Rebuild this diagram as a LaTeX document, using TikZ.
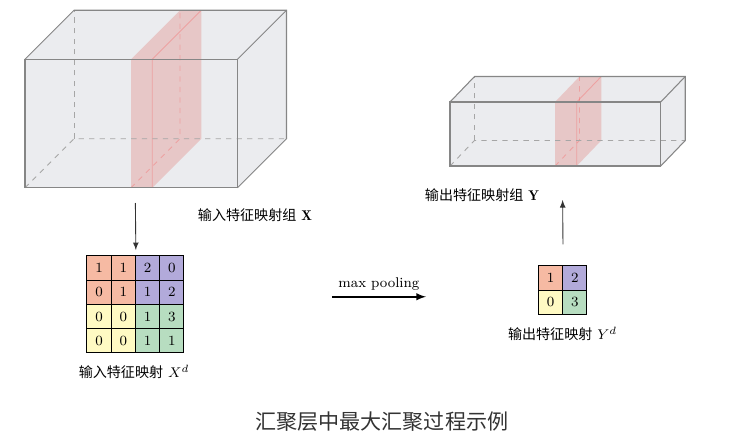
\documentclass[tikz,border=0pt]{standalone}
\usepackage{fontspec}
\newfontfamily\cjk{Noto Sans CJK SC}
\definecolor{boxgray}{RGB}{235,236,239}
\definecolor{slabred}{RGB}{223,92,83}
\definecolor{cred}{RGB}{246,186,163}
\definecolor{cpurple}{RGB}{178,170,218}
\definecolor{cyellow}{RGB}{255,250,195}
\definecolor{cgreen}{RGB}{183,221,192}
\tikzset{
  cell/.style={draw, line width=0.6pt, minimum size=0.485cm, inner sep=0pt, font=\footnotesize},
  boxedge/.style={draw=gray!95, line width=0.6pt},
  hidden/.style={draw=gray!70, dashed, line width=0.5pt},
  slab/.style={fill=slabred, fill opacity=0.25},
  slabedge/.style={draw=red!80, draw opacity=0.25, line width=0.5pt},
  lbl/.style={font=\footnotesize},
}
\begin{document}
\begin{tikzpicture}[scale = 0.5]
\useasboundingbox (0,0) rectangle (30,17.64);
% input feature maps
\fill[boxgray] (1,10.13) -- (1,15.27) -- (2.96,17.23) -- (11.46,17.23) -- (11.46,12.09) -- (9.5,10.13) -- cycle;
\fill[slab] (5.24,10.13) -- (5.24,15.27) -- (7.2,17.23) -- (8.05,17.23) -- (8.05,12.09) -- (6.09,10.13) -- cycle;
\draw[slabedge] (6.09,10.13) -- (6.09,15.27) -- (8.05,17.23);
\draw[slabedge, dashed] (5.24,10.13) -- (7.2,12.09) -- (7.2,17.23);
\draw[hidden] (1,10.13) -- (2.96,12.09) -- (11.46,12.09);
\draw[hidden] (2.96,12.09) -- (2.96,17.23);
\draw[boxedge] (1,10.13) rectangle (9.5,15.27);
\draw[boxedge] (1,15.27) -- (2.96,17.23) -- (11.46,17.23) -- (11.46,12.09) -- (9.5,10.13);
\draw[boxedge] (9.5,15.27) -- (11.46,17.23);
\node[lbl] (xset) at (10.2,9.04) {{\cjk 输入特征映射组} $\mathbf{X}$};
% output feature maps
\fill[boxgray] (18,11) -- (18,13.56) -- (18.98,14.58) -- (27.41,14.58) -- (27.41,12.02) -- (26.43,11) -- cycle;
\fill[slab] (22.2,11) -- (22.2,13.56) -- (23.18,14.58) -- (24.05,14.58) -- (24.05,12.02) -- (23.07,11) -- cycle;
\draw[slabedge] (23.07,11) -- (23.07,13.56) -- (24.05,14.58);
\draw[slabedge, dashed] (22.2,11) -- (23.18,12.02) -- (23.18,14.58);
\draw[hidden] (18,11) -- (18.98,12.02) -- (27.41,12.02);
\draw[hidden] (18.98,12.02) -- (18.98,14.58);
\draw[boxedge] (18,11) rectangle (26.43,13.56);
\draw[boxedge] (18,13.56) -- (18.98,14.58) -- (27.41,14.58) -- (27.41,12.02) -- (26.43,11);
\draw[boxedge] (26.43,13.56) -- (27.41,14.58);
\node[lbl] (yset) at (19.28,9.84) {{\cjk 输出特征映射组} $\mathbf{Y}$};
% input feature map X^d
\node[cell, fill=cred] (x00) at (3.96,6.92) {1};
\node[cell, fill=cred] (x01) at (4.93,6.92) {1};
\node[cell, fill=cpurple] (x02) at (5.9,6.92) {2};
\node[cell, fill=cpurple] (x03) at (6.87,6.92) {0};
\node[cell, fill=cred] (x10) at (3.96,5.95) {0};
\node[cell, fill=cred] (x11) at (4.93,5.95) {1};
\node[cell, fill=cpurple] (x12) at (5.9,5.95) {1};
\node[cell, fill=cpurple] (x13) at (6.87,5.95) {2};
\node[cell, fill=cyellow] (x20) at (3.96,4.98) {0};
\node[cell, fill=cyellow] (x21) at (4.93,4.98) {0};
\node[cell, fill=cgreen] (x22) at (5.9,4.98) {1};
\node[cell, fill=cgreen] (x23) at (6.87,4.98) {3};
\node[cell, fill=cyellow] (x30) at (3.96,4.01) {0};
\node[cell, fill=cyellow] (x31) at (4.93,4.01) {0};
\node[cell, fill=cgreen] (x32) at (5.9,4.01) {1};
\node[cell, fill=cgreen] (x33) at (6.87,4.01) {1};
\node[lbl] (xmap) at (5.36,2.76) {{\cjk 输入特征映射} $X^d$};
% output feature map Y^d
\node[cell, fill=cred] (y00) at (22.02,6.52) {1};
\node[cell, fill=cpurple] (y01) at (22.99,6.52) {2};
\node[cell, fill=cyellow] (y10) at (22.02,5.55) {0};
\node[cell, fill=cgreen] (y11) at (22.99,5.55) {3};
\node[lbl] (ymap) at (22.5,4.28) {{\cjk 输出特征映射} $Y^d$};
% arrows
\coordinate (xin) at (5.415,9.52);
\coordinate (yout) at (22.505,9.64);
\coordinate (pl) at (13.27,5.77);
\coordinate (pr) at (17.04,5.77);
\draw[-latex, black!80, line width=0.5pt] (xin) -- (x01.north east) [shorten >=3pt];
\draw[-latex, black!80, line width=0.5pt, shorten <=12pt] (y00.north east) -- (yout);
\draw[-latex, line width=0.9pt] (pl) -- node[lbl, above] {max pooling} (pr);
\node (title) at (15.27,0.77) {\large\cjk\color{black!80} 汇聚层中最大汇聚过程示例};
\end{tikzpicture}
\end{document}
